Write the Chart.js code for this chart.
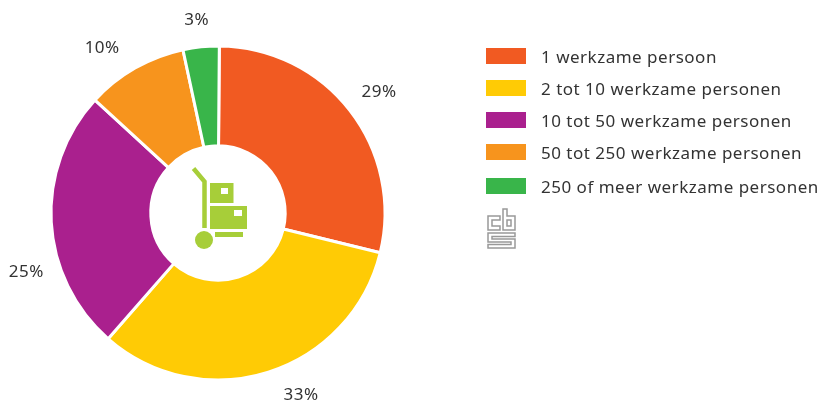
<!DOCTYPE html>
<html><head><meta charset="utf-8">
<script src="https://cdn.jsdelivr.net/npm/chart.js@4/dist/chart.umd.min.js"></script>
<style>html,body{margin:0;padding:0;background:#fff}#w{position:relative;width:820px;height:400px}canvas{position:absolute;left:0;top:0}svg{position:absolute;left:0;top:0;pointer-events:none}</style>
</head><body><div id="w"><canvas id="c" width="820" height="400"></canvas>
<svg width="820" height="400">
<g fill="#a7ce39"><path d="M193.5 168.5L204.5 181.5V228" fill="none" stroke="#a7ce39" stroke-width="4.5"/>
<path fill-rule="evenodd" d="M210 183h23.5v20H210zM221 188v6h7v-6z"/>
<path fill-rule="evenodd" d="M210 206h37v23h-37zM234 210v6h8v-6z"/>
<circle cx="204" cy="240" r="9"/><rect x="215" y="232" width="28" height="5"/></g>
<g fill="none" stroke="#999" stroke-width="1.5"><path d="M500 216H488V230H500V226H492V220H500Z"/><path d="M503 209V230H515V216H507V209ZM507 220h4v6h-4Z"/><path d="M488 233H515V236.5H492V239H515V248H488V244.5H511V242H488Z"/></g>
</svg></div>
<script>
const categories=["1 werkzame persoon","2 tot 10 werkzame personen","10 tot 50 werkzame personen","50 tot 250 werkzame personen","250 of meer werkzame personen"];
const values=[28.7,32.6,25.4,9.81,3.49];
const colors=["#f15a22","#ffcb05","#aa208e","#f7941d","#39b54a"];
const FONT='400 17px "Noto Sans"';
const labelDrift=[[4,1],[23,-8],[7,48],[-17,8],[-1,5]];
const annot={id:'annot',afterDatasetsDraw(ch){
  const g=ch.ctx,arcs=ch.getDatasetMeta(0).data;
  g.save();g.font=FONT;g.fillStyle='#333';g.textBaseline='middle';g.letterSpacing='0.5px';
  arcs.forEach((a,i)=>{const m=(a.startAngle+a.endAngle)/2,r=a.outerRadius+32;
    g.textAlign='center';
    g.fillText(Math.round(values[i])+'%',a.x+Math.cos(m)*r+labelDrift[i][0],a.y+Math.sin(m)*r+labelDrift[i][1]);});
  g.textAlign='left';
  const rows=[48,80,112,144,178];
  categories.forEach((t,i)=>{g.fillStyle=colors[i];g.fillRect(486,rows[i],40,16);
    g.fillStyle='#333';g.fillText(t,541,rows[i]+10);});
  g.restore();}};
new Chart(document.getElementById('c'),{type:'doughnut',
 data:{labels:categories,datasets:[{data:values,backgroundColor:colors,borderColor:'#fff',borderWidth:3}]},
 options:{responsive:false,animation:false,radius:167,cutout:67,rotation:0.45,
  layout:{padding:{left:49,right:433,top:45,bottom:19}},
  plugins:{legend:{display:false},tooltip:{enabled:false}}},plugins:[annot]});
</script></body></html>
